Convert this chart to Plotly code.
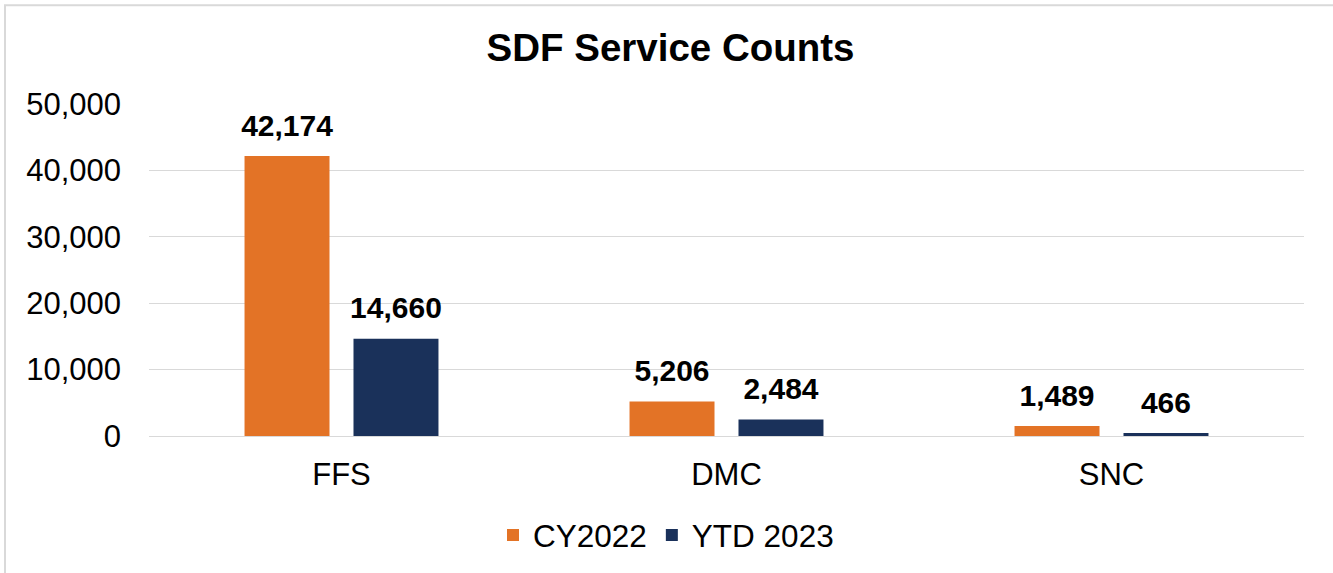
import plotly.graph_objects as go

categories = ["FFS", "DMC", "SNC"]
cy2022 = [42174, 5206, 1489]
ytd2023 = [14660, 2484, 466]
series_names = ["CY2022", "YTD 2023"]
colors = ["#E37326", "#1A315A"]
yticks = [0, 10000, 20000, 30000, 40000, 50000]

W, H = 1333, 573
ml, mr, mt, mb = 149, 29, 104, 136
FONT = "Liberation Sans, Arial"
GAP = 0.434

fig = go.Figure()
for name, vals, col in zip(series_names, [cy2022, ytd2023], colors):
    fig.add_trace(go.Bar(
        x=categories, y=vals, name=name, marker=dict(color=col, line=dict(width=0)),
        offsetgroup=name, hoverinfo="x+y+name",
    ))
for name, vals in zip(series_names, [cy2022, ytd2023]):
    fig.add_trace(go.Scatter(
        x=categories, y=vals, mode="markers+text", showlegend=False, hoverinfo="skip",
        offsetgroup=name,
        marker=dict(size=19, color="rgba(0,0,0,0)"),
        text=[f"<b>{v:,}</b>" for v in vals], textposition="top center",
        textfont=dict(family=FONT, size=30, color="#000000"), cliponaxis=False,
    ))

pw = W - ml - mr
ph = H - mt - mb
fig.add_shape(type="rect", xref="paper", yref="paper",
              x0=(5 - ml) / pw, x1=(W + 5 - ml) / pw,
              y0=(H - mb - (H + 5)) / ph, y1=(H - mb - 5) / ph,
              line=dict(color="#D9D9D9", width=2), fillcolor="rgba(0,0,0,0)", layer="below")

fig.update_layout(
    width=W, height=H,
    margin=dict(l=ml, r=mr, t=mt, b=mb),
    paper_bgcolor="white", plot_bgcolor="white",
    barmode="group", bargap=GAP, bargroupgap=0.22,
    scattermode="group", scattergap=GAP,
    title=dict(text="<b>SDF Service Counts</b>", x=(W / 2 + 4) / W, xanchor="center", y=1 - 48 / H, yanchor="middle",
               font=dict(family=FONT, size=38.5, color="#000000")),
    font=dict(family=FONT, size=31, color="#000000"),
    legend=dict(orientation="h", x=(666 - ml) / pw, xanchor="center", y=(H - mb - 535) / ph, yanchor="middle",
                font=dict(size=31.5), itemwidth=30, traceorder="normal"),
    yaxis=dict(range=[0, 50000], tickvals=yticks, tickformat=",", showgrid=True, gridcolor="#D9D9D9",
               gridwidth=1, zeroline=True, zerolinecolor="#D9D9D9", zerolinewidth=1,
               ticks="", ticklabelstandoff=27, showline=False),
    xaxis=dict(showgrid=False, ticks="", ticklabelstandoff=17, showline=False),
)

fig.write_html("out.html", config={"displayModeBar": False},
               post_script="document.body.style.margin='0';")
